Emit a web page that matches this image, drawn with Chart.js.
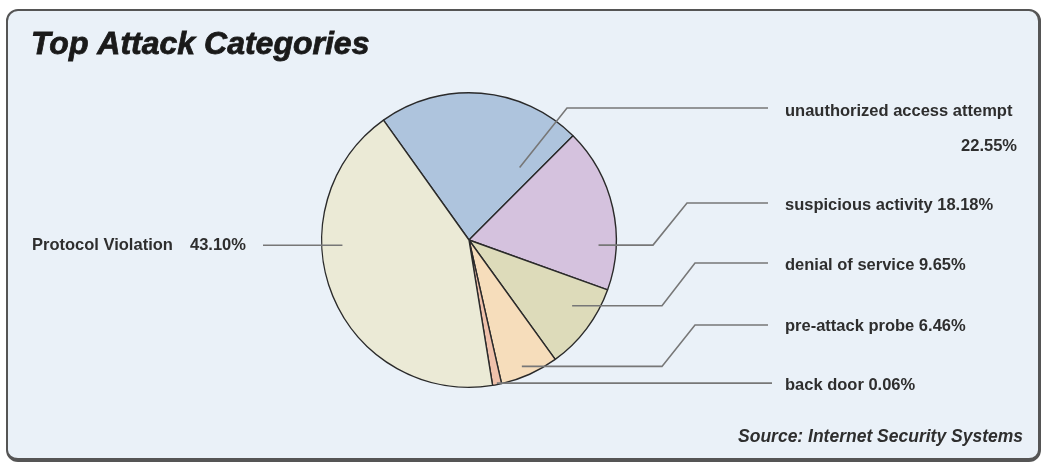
<!DOCTYPE html>
<html><head><meta charset="utf-8">
<script src="https://cdn.jsdelivr.net/npm/chart.js@4.4.0/dist/chart.umd.min.js"></script>
<style>
html,body{margin:0;padding:0;background:#fff;width:1044px;height:465px;overflow:hidden}
#panel{position:absolute;left:6px;top:9px;width:1035px;height:453px;box-sizing:border-box;background:#EAF1F8;border:2px solid #555;border-right-width:3px;border-bottom-width:4px;border-radius:12px}
#wrap{position:absolute;left:0;top:0;width:1044px;height:465px}
</style></head><body>
<div id="panel"></div>
<div id="wrap"><canvas id="c" width="1044" height="465"></canvas></div>
<script>
const title = 'Top Attack Categories';
const source = 'Source: Internet Security Systems';
const categories = ['unauthorized access attempt','suspicious activity','denial of service','pre-attack probe','back door','Protocol Violation'];
const percentLabels = ['22.55%','18.18%','9.65%','6.46%','0.06%','43.10%'];
// slice sizes as drawn in the picture (back door slice is drawn visibly wider than its 0.06% label)
const sliceValues = [22.55,18.18,9.65,6.46,1.0,43.10];
const sliceColors = ['#AEC4DD','#D5C2DE','#DDDBBA','#F6DDBB','#EFC1AB','#EBEAD6'];

// leader-line layout (positions only)
const leaderLayout = [
  {frac:.876, rf:.60, path:[[567,108],[768,108]], text:[785,116], pct:[1017,151,'right']},
  {frac:.73, rf:.88, path:[[653,null],[687,203],[768,203]], text:[785,210]},
  {frac:.37, rf:.83, path:[[662,null],[695,263],[768,263]], text:[785,270]},
  {frac:.57, rf:.93, path:[[662,null],[695,325],[768,325]], text:[785,331]},
  {frac:.5, rf:.99, path:[[772,null]], text:[785,390]},
  {frac:.63, rf:.86, path:[[263,null]], text:[32,250], pct:[190,250,'left']}
];

const FONT = "'Liberation Sans', Arial, Helvetica, sans-serif";

const overlay = {
  id:'overlay',
  afterDraw(chart){
    const ctx = chart.ctx;
    const meta = chart.getDatasetMeta(0);
    ctx.save();
    // title
    ctx.fillStyle = '#1a1a1a';
    ctx.strokeStyle = '#1a1a1a';
    ctx.lineWidth = 0.8;
    ctx.font = 'bold italic 32px ' + FONT;
    ctx.textBaseline = 'alphabetic';
    ctx.textAlign = 'left';
    ctx.fillText(title, 31, 54);
    ctx.strokeText(title, 31, 54);
    // leaders + labels
    meta.data.forEach((arc, i) => {
      const L = leaderLayout[i];
      const p = arc.getProps(['x','y','startAngle','endAngle','outerRadius'], true);
      const a = p.startAngle + L.frac * (p.endAngle - p.startAngle);
      const ax = p.x + p.outerRadius * L.rf * Math.cos(a);
      const ay = p.y + p.outerRadius * L.rf * Math.sin(a);
      ctx.strokeStyle = '#777';
      ctx.lineWidth = 1.6;
      ctx.beginPath();
      ctx.moveTo(ax, ay);
      L.path.forEach(pt => ctx.lineTo(pt[0], pt[1] === null ? ay : pt[1]));
      ctx.stroke();
      ctx.fillStyle = '#2e2e2e';
      ctx.font = 'bold 16.5px ' + FONT;
      ctx.textAlign = 'left';
      if (L.pct) {
        ctx.fillText(categories[i], L.text[0], L.text[1]);
        ctx.textAlign = L.pct[2];
        ctx.fillText(percentLabels[i], L.pct[0], L.pct[1]);
      } else {
        ctx.fillText(categories[i] + ' ' + percentLabels[i], L.text[0], L.text[1]);
      }
    });
    // source
    ctx.fillStyle = '#2e2e2e';
    ctx.font = 'bold italic 17.5px ' + FONT;
    ctx.textAlign = 'right';
    ctx.fillText(source, 1023, 442);
    ctx.restore();
  }
};

new Chart(document.getElementById('c'), {
  type:'pie',
  data:{labels:categories, datasets:[{data:sliceValues, backgroundColor:sliceColors, borderColor:'#2a2a2a', borderWidth:1.4}]},
  options:{
    responsive:false, animation:false, rotation:-35.5,
    layout:{padding:{left:321, right:427, top:92, bottom:77}},
    plugins:{legend:{display:false}, tooltip:{enabled:false}, title:{display:false}}
  },
  plugins:[overlay]
});
</script>
</body></html>
